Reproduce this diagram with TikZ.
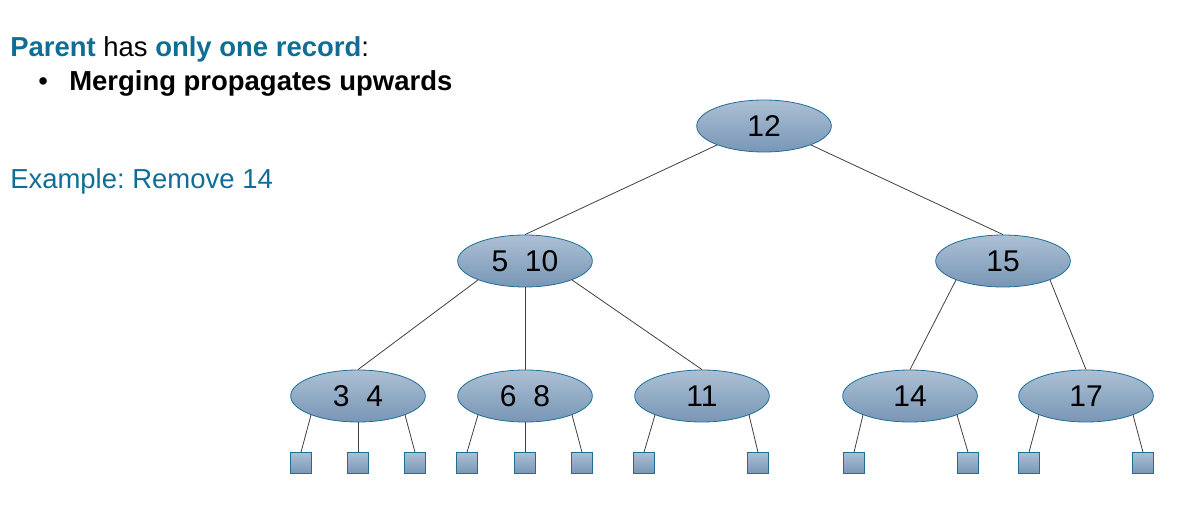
\documentclass[tikz,border=0pt]{standalone}
\usepackage{fontspec}
\setmainfont{Liberation Sans}
\usetikzlibrary{shapes.geometric}
\definecolor{teal}{RGB}{16,110,150}
\definecolor{edgecol}{RGB}{30,110,150}
\definecolor{topfill}{RGB}{172,192,212}
\definecolor{botfill}{RGB}{120,150,182}
\definecolor{linecol}{RGB}{64,64,64}
\frenchspacing
\tikzset{
  keynode/.style={ellipse, draw=edgecol, line width=0.6pt, top color=topfill, bottom color=botfill,
    minimum width=101pt, minimum height=39pt, inner sep=0pt, font=\fontsize{22.5}{24}\selectfont},
  leafnode/.style={rectangle, draw=edgecol, line width=0.6pt, top color=topfill, bottom color=botfill,
    minimum width=15.5pt, minimum height=15.5pt, inner sep=0pt},
  conn/.style={draw=linecol, line width=0.6pt},
  hdr/.style={anchor=base west, inner sep=0pt, font=\fontsize{20.6}{22}\selectfont}
}
\begin{document}
\begin{tikzpicture}[x=0.75pt,y=-0.75pt]
\useasboundingbox (0,0) rectangle (1180,509);
\node[hdr] (h1) at (10,57) {\textbf{\color{teal}Parent} has \textbf{\color{teal}only one record}:};
\node[hdr] (b1) at (38,91) {\textbullet};
\node[hdr] (h2) at (69,91) {\textbf{Merging propagates upwards}};
\node[hdr, text=teal] (h3) at (10,189) {Example: Remove 14};

\node[keynode] (n12) at (764,126) {12};
\node[keynode] (n510) at (525,261) {5~~10};
\node[keynode] (n15) at (1003,261) {15};
\node[keynode] (n34) at (358,396) {3~~4};
\node[keynode] (n68) at (525,396) {6~~8};
\node[keynode] (n11) at (702,396) {11};
\node[keynode] (n14) at (910,396) {14};
\node[keynode] (n17) at (1086,396) {17};

\foreach \i/\x in {1/301,2/358,3/415,4/467,5/525,6/582,7/644,8/758,9/854,10/968,11/1029,12/1143}
  \node[leafnode] (l\i) at (\x,463) {};

\draw[conn] (n12.202) -- (n510.north);
\draw[conn] (n12.338) -- (n15.north);
\draw[conn] (n510.202) -- (n34.north);
\draw[conn] (n510.south) -- (n68.north);
\draw[conn] (n510.338) -- (n11.north);
\draw[conn] (n15.202) -- (n14.north);
\draw[conn] (n15.338) -- (n17.north);

\draw[conn] (n34.202) -- (l1.north);
\draw[conn] (n34.south) -- (l2.north);
\draw[conn] (n34.338) -- (l3.north);
\draw[conn] (n68.202) -- (l4.north);
\draw[conn] (n68.south) -- (l5.north);
\draw[conn] (n68.338) -- (l6.north);
\draw[conn] (n11.202) -- (l7.north);
\draw[conn] (n11.338) -- (l8.north);
\draw[conn] (n14.202) -- (l9.north);
\draw[conn] (n14.338) -- (l10.north);
\draw[conn] (n17.202) -- (l11.north);
\draw[conn] (n17.338) -- (l12.north);
\end{tikzpicture}
\end{document}
